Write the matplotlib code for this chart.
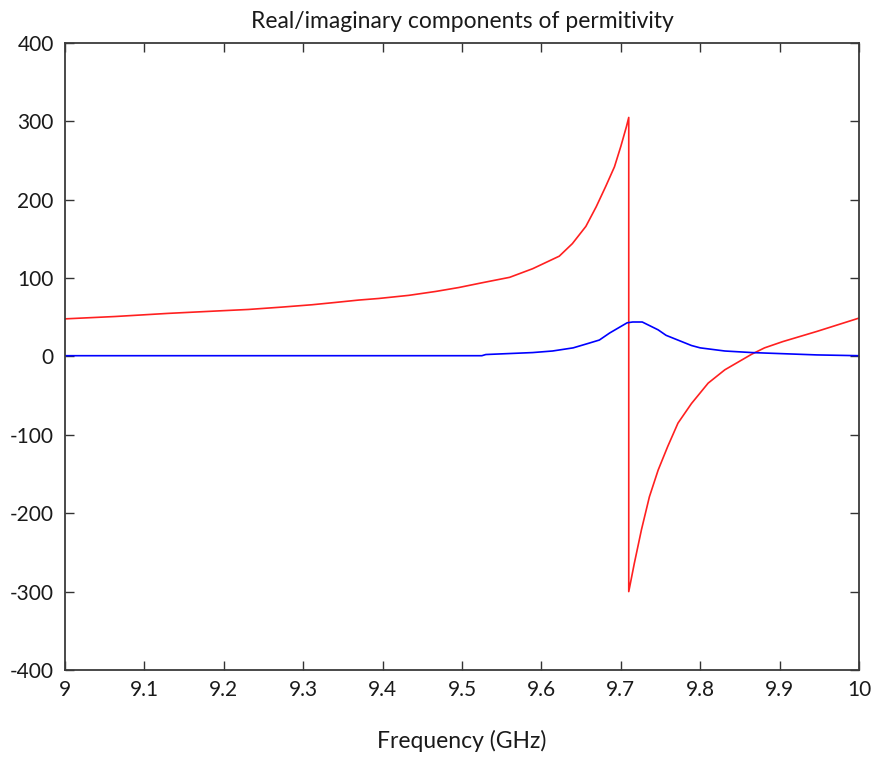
import matplotlib
matplotlib.use("Agg")
import matplotlib.pyplot as plt

# Real part of permittivity (red)
freq_real = [9.00, 9.063, 9.13, 9.19, 9.231, 9.273, 9.311, 9.341, 9.37, 9.395,
             9.433, 9.467, 9.496, 9.525, 9.56, 9.589, 9.6225, 9.639, 9.656, 9.669,
             9.681, 9.692, 9.700, 9.707, 9.71, 9.71, 9.717, 9.726, 9.736, 9.747,
             9.759, 9.772, 9.789, 9.81, 9.831, 9.865, 9.881, 9.904, 9.947, 10.0]
eps_real = [48, 51, 55, 58, 60, 63, 66, 69, 72, 74,
            78, 83, 88, 94, 101, 112, 128, 144, 166, 191,
            217, 242, 268, 293, 305, -300, -264, -221, -179, -145,
            -115, -85, -60, -34, -17, 3, 11, 19, 32, 49]

# Imaginary part of permittivity (blue)
freq_imag = [9.00, 9.20, 9.40, 9.525, 9.53, 9.589, 9.614, 9.64, 9.66, 9.673,
             9.686, 9.708, 9.715, 9.727, 9.747, 9.757, 9.789, 9.80, 9.831, 9.865,
             9.947, 10.0]
eps_imag = [1, 1, 1, 1, 2.5, 5, 7, 11, 17, 21,
            30, 43, 44, 44, 34, 27, 14, 11, 7, 5,
            2, 1]

x_ticks = [9, 9.1, 9.2, 9.3, 9.4, 9.5, 9.6, 9.7, 9.8, 9.9, 10]
x_tick_labels = ["9", "9.1", "9.2", "9.3", "9.4", "9.5", "9.6", "9.7", "9.8", "9.9", "10"]
y_ticks = [-400, -300, -200, -100, 0, 100, 200, 300, 400]

plt.rcParams["font.family"] = ["Lato", "DejaVu Sans"]
plt.rcParams["axes.unicode_minus"] = False

fig = plt.figure(figsize=(8.77, 7.58), dpi=100)
ax = fig.add_axes([0.0741, 0.1161, 0.9054, 0.8272])

ax.plot(freq_real, eps_real, color="#ff2020", linewidth=1.2)
ax.plot(freq_imag, eps_imag, color="#0000ff", linewidth=1.2)

ax.set_xlim(9, 10)
ax.set_ylim(-400, 400)
ax.set_xticks(x_ticks)
ax.set_xticklabels(x_tick_labels)
ax.set_yticks(y_ticks)

ax.tick_params(direction="in", top=True, right=True, length=6.5, width=1,
               labelsize=15, colors="#333333", labelcolor="#1a1a1a")
ax.tick_params(axis="x", pad=7)
ax.tick_params(axis="y", pad=8)
for side in ax.spines.values():
    side.set_linewidth(1.3)
    side.set_color("#3a3a3a")

ax.set_title("Real/imaginary components of permitivity", fontsize=16.5, pad=11,
             color="#1a1a1a")
ax.set_xlabel("Frequency (GHz)", fontsize=16.5, labelpad=22, color="#1a1a1a")

fig.savefig("out.png", dpi=100, facecolor="white")
